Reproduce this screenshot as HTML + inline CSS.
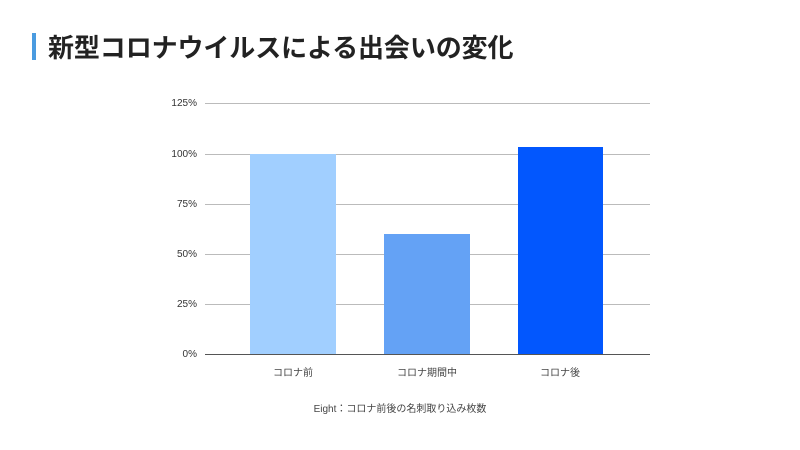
<!DOCTYPE html>
<html><head><meta charset="utf-8"><style>
body{margin:0;width:800px;height:450px;background:#fff;position:relative;overflow:hidden;font-family:"Liberation Sans","Noto Sans CJK JP",sans-serif;}
.t{position:absolute;left:48px;top:32px;font-size:26px;font-weight:bold;color:#222;white-space:nowrap;line-height:32px;letter-spacing:-0.1px}
.bar{position:absolute;left:32px;top:33px;width:4px;height:27px;background:#4a9be0}
.g{position:absolute;left:205px;width:445px;height:1px;background:#bbb}
.y{position:absolute;width:60px;left:137px;text-align:right;font-size:10px;color:#333;line-height:12px}
.b{position:absolute}
.c{position:absolute;width:140px;text-align:center;font-size:10px;color:#444;top:364px}
</style></head><body>
<div class="bar"></div>
<div class="t">新型コロナウイルスによる出会いの変化</div>
<div class="g" style="top:103px"></div><div class="y" style="top:98px">125%</div>
<div class="g" style="top:154px"></div><div class="y" style="top:149px">100%</div>
<div class="g" style="top:204px"></div><div class="y" style="top:199px">75%</div>
<div class="g" style="top:254px"></div><div class="y" style="top:249px">50%</div>
<div class="g" style="top:304px"></div><div class="y" style="top:299px">25%</div>
<div class="y" style="top:349px">0%</div>
<div class="b" style="left:250px;top:154px;width:86px;height:200px;background:#a1cfff"></div>
<div class="b" style="left:384px;top:234px;width:86px;height:120px;background:#64a2f5"></div>
<div class="b" style="left:518px;top:147px;width:85px;height:207px;background:#0257fe"></div>
<div class="g" style="top:354px;background:#555"></div>
<div class="c" style="left:223px">コロナ前</div>
<div class="c" style="left:357px">コロナ期間中</div>
<div class="c" style="left:490px">コロナ後</div>
<div style="position:absolute;left:0;width:800px;top:400px;text-align:center;font-size:10px;color:#444">Eight：コロナ前後の名刺取り込み枚数</div>
</body></html>
